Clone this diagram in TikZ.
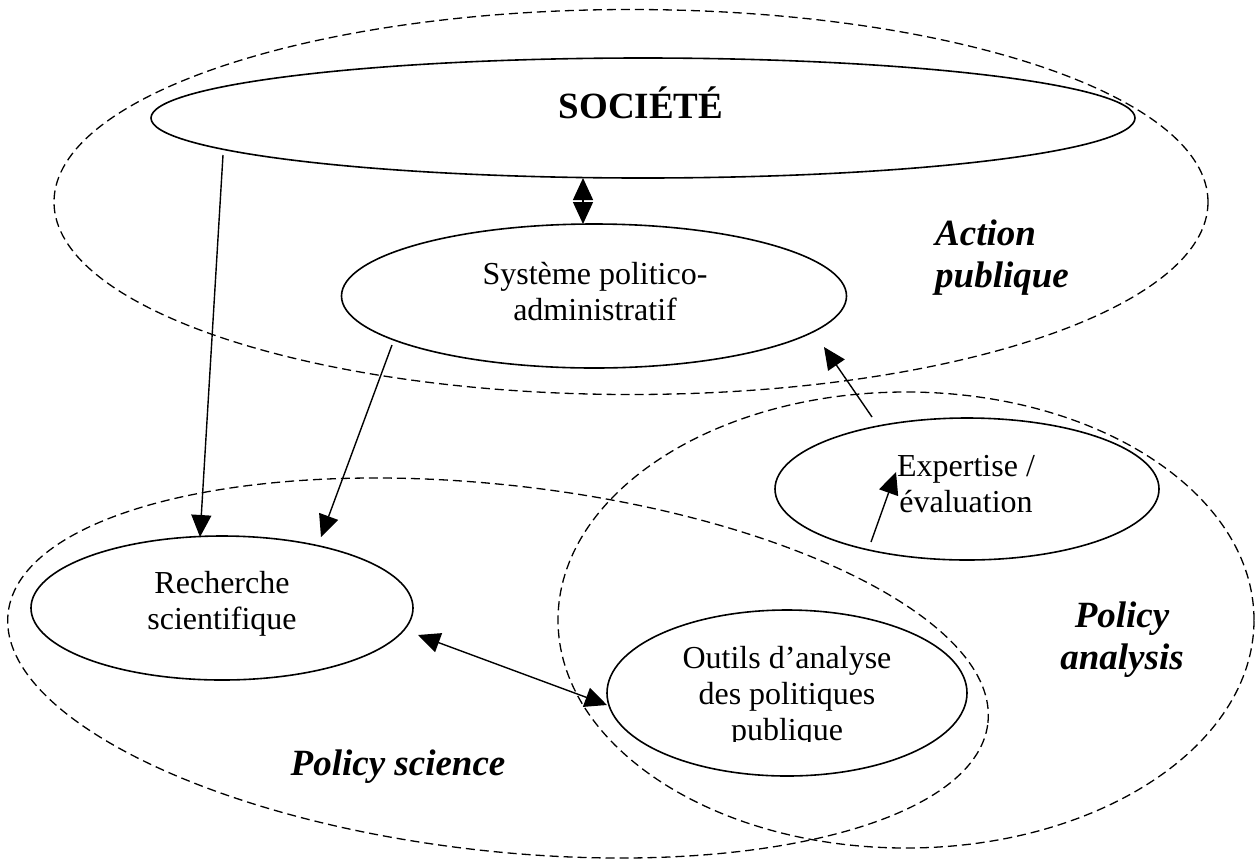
\documentclass[tikz,border=0pt]{standalone}
\usepackage{fontspec}
\setmainfont{Liberation Serif}
\usetikzlibrary{shapes.geometric,arrows.meta}
\begin{document}
\begin{tikzpicture}[x=1pt,y=-1pt,
  oval/.style={draw, ellipse, line width=1.6pt, inner sep=0pt},
  zone/.style={draw, ellipse, line width=1.3pt, dash pattern=on 9pt off 5pt, inner sep=0pt},
  txt/.style={font=\fontsize{32}{36}\selectfont, align=center, inner sep=0pt},
  lbl/.style={font=\fontsize{37}{42}\selectfont\bfseries\itshape, inner sep=0pt},
  titre/.style={font=\fontsize{37}{42}\selectfont\bfseries, inner sep=0pt},
  tip/.tip={Triangle[length=22pt,width=20pt]},
  arr/.style={line width=1.4pt, -tip},
  darr/.style={line width=1.4pt, tip-tip}]
\useasboundingbox (0,0) rectangle (1257,860);
\fill[white] (0,0) rectangle (1257,860);
% zones
\node[zone, minimum width=1154pt, minimum height=385pt] (ap) at (631,202) {};
\node[zone, minimum width=696pt, minimum height=456pt] (pa) at (906,620) {};
\node[zone, minimum width=986pt, minimum height=366pt, rotate=-6.4] (ps) at (498,668) {};
% ovals
\node[oval, minimum width=984pt, minimum height=120pt] (soc) at (643,118) {};
\node[oval, minimum width=505pt, minimum height=144pt] (sys) at (594,296) {};
\node[oval, minimum width=382pt, minimum height=144pt] (rech) at (222,608) {};
\node[oval, minimum width=384pt, minimum height=142pt] (exp) at (967,489) {};
\node[oval, minimum width=360pt, minimum height=166pt] (out) at (787,693) {};
% texts
\node[titre, anchor=base] (socT) at (641,118) {SOCIÉTÉ};
\node[txt] (sysT) at (595,292) {Système politico-\\administratif};
\node[txt] (rechT) at (222,604) {Recherche\\scientifique};
\node[txt] (expT) at (966,484) {Expertise /\\évaluation};
\begin{scope}
\clip (600,600) rectangle (980,741);
\node[txt] (outT) at (787,697) {Outils d’analyse\\des politiques\\publique};
\end{scope}
\node[lbl, align=left, anchor=west] (apT) at (935,258) {Action\\publique};
\node[lbl, align=center] (paT) at (1122,640) {Policy\\analysis};
\node[lbl] (psT) at (398,767) {Policy science};
% connector ends
\coordinate (c1s) at (223,155);
\coordinate (c1e) at (200,537);
\coordinate (c2s) at (392,345);
\coordinate (c2e) at (321,537);
\coordinate (c3s) at (583,178);
\coordinate (c3e) at (583,224);
\coordinate (c4s) at (418,635);
\coordinate (c4e) at (607,705);
\coordinate (c5s) at (872,417);
\coordinate (c5e) at (824,347);
\coordinate (c6s) at (871,542);
\coordinate (c6e) at (896,472);
% connectors
\draw[arr] (c1s) -- (c1e);
\draw[arr] (c2s) -- (c2e);
\draw[darr] (c3s) -- (c3e);
\draw[darr] (c4s) -- (c4e);
\draw[arr] (c5s) -- (c5e);
\draw[arr] (c6s) -- (c6e);
\end{tikzpicture}
\end{document}
